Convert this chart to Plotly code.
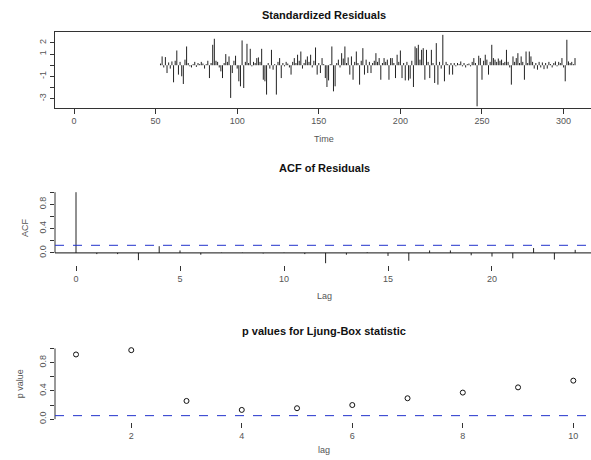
import plotly.graph_objects as go

# ---------------- data ----------------
resid_start = 53
std_resid = [
    0.15, 0.79, -0.2, 0.73, -0.7, 0.25, -0.3, 0.34, -1.53, 0.4,          # 53-62
    1.32, -0.84, 0.3, -0.99, -1.68, 0.5, 1.68, 0.2, -0.1, -0.2,          # 63-72
    0.1, 0.3, -0.15, 0.2, 0.1, 0.3, 0.15, -0.3, 0.1, 0.4,                # 73-82
    -1.15, 0.2, 1.83, 2.37, 0.4, 0.3, -0.2, -0.55, -1.15, 0.2,           # 83-92
    1.0, 0.3, 0.79, -2.93, -0.7, 0.4, 0.85, -0.3, -1.44, -1.89,          # 93-102
    2.22, -2.04, 0.3, 1.92, 0.2, 1.47, -0.1, 0.3, 0.2, 0.64,             # 103-112
    0.7, 0.3, 1.47, -1.3, -1.44, -2.63, 0.2, -0.3, 1.38, -0.4,           # 113-122
    0.1, -2.63, 0.3, 0.64, -1.15, 0.2, -0.1, 0.3, 0.15, -0.2,            # 123-132
    -0.84, 0.3, 0.64, 0.2, 0.94, 0.4, 1.23, -0.3, 0.2, 0.5,              # 133-142
    0.79, 0.3, 0.94, -0.2, 0.4, 1.59, -0.84, 0.2, -0.7, 0.64,            # 143-152
    0.1, -1.15, -1.95, -1.36, 0.1, 1.68, -2.34, -1.89, 0.2, 0.5,         # 153-162
    -0.2, 1.08, 0.6, 1.68, 0.2, 0.7, -0.84, 0.79, -1.3, 0.3,             # 163-172
    1.23, 0.2, -1.74, 0.4, 1.53, -0.84, 0.5, -0.7, 0.3, -0.7,            # 173-182
    0.2, 0.4, 1.08, 0.3, 0.64, -1.3, 0.2, 0.64, 0.3, 0.5,                # 183-192
    -1.3, 0.64, 0.64, 0.2, -1.15, 0.94, 0.3, 1.32, -1.15, 0.2,           # 193-202
    -1.36, 0.3, -1.36, -1.2, 0.4, -1.95, 1.68, 1.53, 1.83, 0.5,          # 203-212
    1.38, 1.53, -1.3, 1.38, 0.3, -1.15, 1.38, 0.2, -1.59, 1.98,          # 213-222
    -1.74, 0.3, -0.3, 2.72, -1.44, 0.3, 0.1, -0.84, 0.2, -0.84,          # 223-232
    0.2, -0.1, 0.2, 0.1, 0.34, -0.1, 0.2, -0.2, 0.1, 0.15,               # 233-242
    -0.1, 0.3, 0.64, 0.2, -3.68, 0.85, 0.64, -1.3, 0.4, 0.94,            # 243-252
    0.5, -0.84, 0.3, 1.83, 0.64, 0.5, 0.3, 0.6, 0.4, 0.5,                # 253-262
    0.2, 0.3, 1.38, 0.3, -0.2, -1.74, 0.79, 0.3, 0.64, 1.08,             # 263-272
    0.2, 0.79, 0.3, -1.3, 1.23, 0.2, 1.23, 0.79, 0.3, -0.3,              # 273-282
    0.2, -0.4, 0.3, -0.2, 0.25, -0.35, 0.2, -0.3, 0.3, 0.1,              # 283-292
    -0.2, 0.2, 0.34, -0.1, 0.3, 0.2, 0.64, -0.2, -1.44, 2.28,            # 293-302
    0.34, 0.2, 0.3, 0.1, 0.64,                                           # 303-307
]
time_idx = list(range(resid_start, resid_start + len(std_resid)))

acf_lags = list(range(0, 25))
acf_vals = [1.0, -0.02, -0.02, -0.12, 0.11, 0.04, -0.03, 0.005, 0.005, -0.01,
            0.005, -0.02, -0.17, -0.03, 0.01, -0.05, -0.13, 0.04, 0.04, -0.04,
            -0.06, -0.09, 0.08, -0.11, 0.05]
acf_ci = 0.125

lb_lags = list(range(1, 11))
lb_pvals = [0.915, 0.976, 0.258, 0.131, 0.155, 0.20, 0.296, 0.376, 0.45, 0.545]
p_level = 0.05

resid_xticks = [0, 50, 100, 150, 200, 250, 300]
resid_yticks = [-3, -2, -1, 0, 1, 2]
resid_ytext = ["-3", "", "-1", "", "1", "2"]
acf_xticks = [0, 5, 10, 15, 20]
unit_yticks = [0, 0.2, 0.4, 0.6, 0.8, 1.0]
unit_ytext = ["0.0", "", "0.4", "", "0.8", ""]
lb_xticks = [2, 4, 6, 8, 10]

# ---------------- layout helpers ----------------
W, H = 591, 460
ML = 55
PW = W - ML
FONT = "Liberation Sans, Arial, sans-serif"
AX = "#333333"
TXT = "#555555"
BLUE = "#2233cc"


def pxx(p):
    return (p - ML) / PW


def pxy(p):
    return 1 - p / H


def spikes(xs, ys):
    X, Y = [], []
    for x, y in zip(xs, ys):
        X += [x, x, None]
        Y += [0, y, None]
    return X, Y


fig = go.Figure()

rx, ry = spikes(time_idx, std_resid)
fig.add_trace(go.Scatter(x=rx, y=ry, mode="lines", line=dict(color="#222222", width=1),
                         xaxis="x", yaxis="y", hoverinfo="skip"))

ax_, ay_ = spikes(acf_lags, acf_vals)
fig.add_trace(go.Scatter(x=ax_, y=ay_, mode="lines", line=dict(color="#222222", width=1),
                         xaxis="x2", yaxis="y2", hoverinfo="skip"))

fig.add_trace(go.Scatter(x=lb_lags, y=lb_pvals, mode="markers",
                         marker=dict(symbol="circle-open", size=5, color="#111111",
                                     line=dict(width=1, color="#111111")),
                         xaxis="x3", yaxis="y3"))

tickfont = dict(family=FONT, size=9, color=TXT)
common_x = dict(showgrid=False, zeroline=False, ticks="outside", ticklen=5,
                tickcolor=AX, tickfont=tickfont, fixedrange=True)
common_y = dict(showgrid=False, zeroline=False, ticks="outside", ticklen=4,
                tickcolor=AX, tickfont=tickfont, tickangle=-90, fixedrange=True)

fig.update_layout(
    width=W, height=H,
    margin=dict(l=ML, r=0, t=0, b=0),
    paper_bgcolor="white", plot_bgcolor="white",
    showlegend=False,
    xaxis=dict(domain=[0, 1], range=[-11.64, 316.8], anchor="y",
               tickvals=resid_xticks, showline=True, mirror=True,
               linecolor=AX, linewidth=1, **common_x),
    yaxis=dict(domain=[pxy(108), pxy(32)], range=[-3.79, 2.99], anchor="x",
               tickvals=resid_yticks, ticktext=resid_ytext,
               showline=True, linecolor=AX, linewidth=1, **common_y),
    xaxis2=dict(domain=[0, 1], range=[-1.01, 24.76], anchor="y2",
                tickvals=acf_xticks, showline=False, **common_x),
    yaxis2=dict(domain=[pxy(266), pxy(190)], range=[-0.197, 1.05], anchor="x2",
                tickvals=unit_yticks, ticktext=unit_ytext, showline=False, **common_y),
    xaxis3=dict(domain=[0, 1], range=[0.62, 10.32], anchor="y3",
                tickvals=lb_xticks, showline=False, **common_x),
    yaxis3=dict(domain=[pxy(424), pxy(347)], range=[-0.042, 1.042], anchor="x3",
                tickvals=unit_yticks, ticktext=unit_ytext, showline=False, **common_y),
)

shapes = [
    # ACF: y axis line, zero line, confidence line
    dict(type="line", xref="paper", x0=0, x1=0, yref="y2", y0=0, y1=1,
         line=dict(color=AX, width=1)),
    dict(type="line", xref="paper", x0=0, x1=1, yref="y2", y0=0, y1=0,
         line=dict(color="#111111", width=1)),
    dict(type="line", xref="paper", x0=0, x1=1, yref="y2", y0=acf_ci, y1=acf_ci,
         line=dict(color=BLUE, width=1, dash="dash")),
    # Ljung-Box: y axis line, significance line
    dict(type="line", xref="paper", x0=0, x1=0, yref="y3", y0=0, y1=1,
         line=dict(color=AX, width=1)),
    dict(type="line", xref="paper", x0=0, x1=1, yref="y3", y0=p_level, y1=p_level,
         line=dict(color=BLUE, width=1, dash="dash")),
]
fig.update_layout(shapes=shapes)

title_font = dict(family=FONT, size=11, color="#111111")
lab_font = dict(family=FONT, size=9, color=TXT)
cx = pxx(324)
ann = [
    dict(text="<b>Standardized Residuals</b>", x=cx, y=pxy(15), font=title_font),
    dict(text="Time", x=cx, y=pxy(140), font=lab_font),
    dict(text="<b>ACF of Residuals</b>", x=cx, y=pxy(169), font=title_font),
    dict(text="Lag", x=cx, y=pxy(297), font=lab_font),
    dict(text="ACF", x=pxx(25), y=pxy(229), font=lab_font, textangle=-90),
    dict(text="<b>p values for Ljung-Box statistic</b>", x=cx, y=pxy(332), font=title_font),
    dict(text="lag", x=cx, y=pxy(452), font=lab_font),
    dict(text="p value", x=pxx(20), y=pxy(386), font=lab_font, textangle=-90),
]
for a in ann:
    a.update(xref="paper", yref="paper", showarrow=False, xanchor="center", yanchor="middle")
fig.update_layout(annotations=ann)

fig.write_html(
    "out.html",
    config={"displayModeBar": False},
    post_script="document.body.style.margin='0';document.body.style.overflow='hidden';",
)
